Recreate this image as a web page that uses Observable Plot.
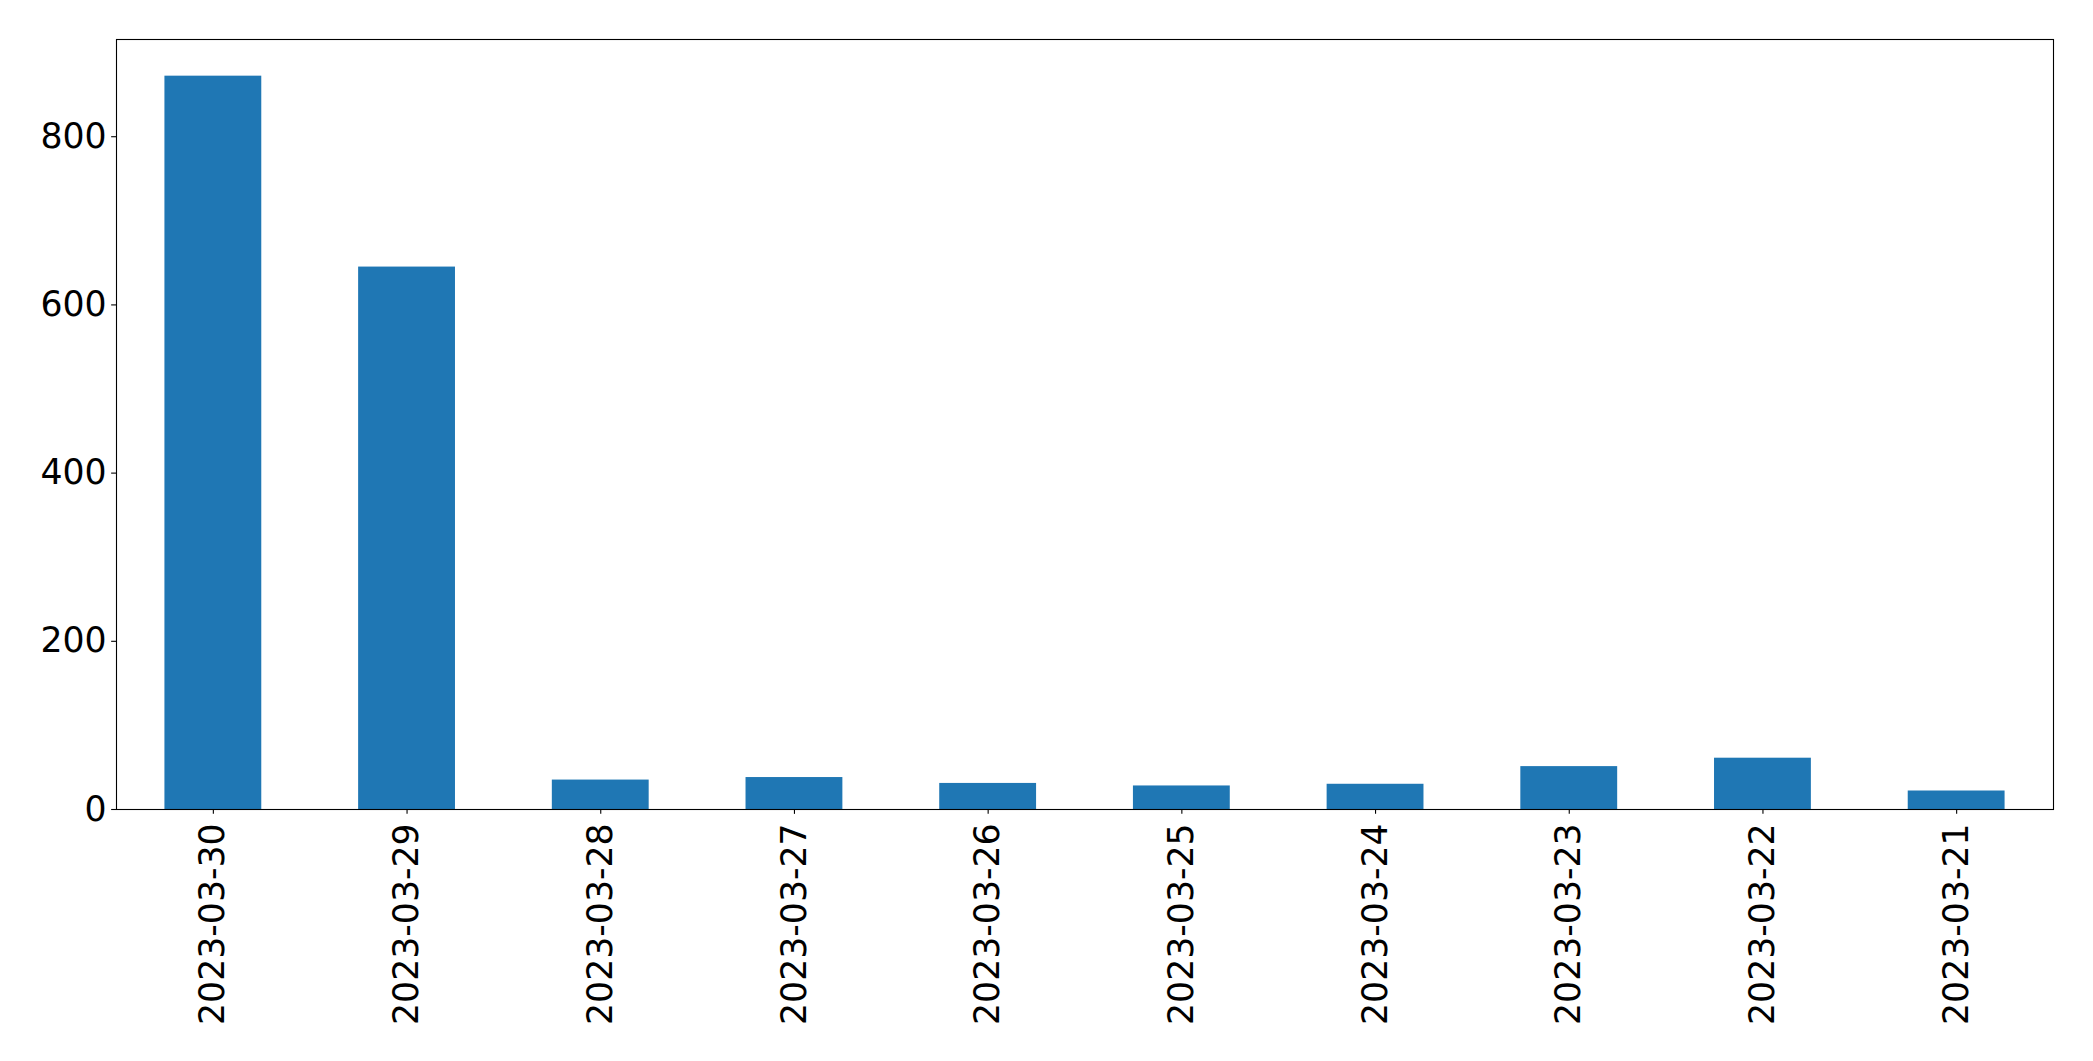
<!DOCTYPE html>
<html>
<head>
<meta charset="utf-8">
<script src="https://cdn.jsdelivr.net/npm/d3@7"></script>
<script src="https://cdn.jsdelivr.net/npm/@observablehq/plot@0.6"></script>
<style>
  html, body { margin: 0; padding: 0; background: #fff; }
  #chart svg { display: block; }
</style>
</head>
<body>
<div id="chart"></div>
<script>
const dates = ["2023-03-30","2023-03-29","2023-03-28","2023-03-27","2023-03-26","2023-03-25","2023-03-24","2023-03-23","2023-03-22","2023-03-21"];
const counts = [872, 645, 35, 38, 31, 28, 30, 51, 61, 22];
const yTicks = [0, 200, 400, 600, 800];

const data = dates.map((d, i) => ({date: d, count: counts[i]}));
const fs = 34.7;

const chart = Plot.plot({
  width: 2093,
  height: 1061,
  marginLeft: 116,
  marginRight: 40,
  marginTop: 39,
  marginBottom: 252,
  style: {fontFamily: "'DejaVu Sans', sans-serif", fontSize: fs + "px", color: "black", background: "white"},
  x: {type: "band", domain: dates, paddingInner: 0.5, paddingOuter: 0.25, round: false, label: null},
  y: {domain: [0, 872 * 1.05], label: null},
  marks: [
    Plot.barY(data, {x: "date", y: "count", fill: "#1f77b4"}),
    Plot.axisY({ticks: yTicks, tickSize: 4.86, tickPadding: 5, fontSize: fs, label: null, strokeWidth: 1.1}),
    Plot.axisX({tickRotate: -90, tickSize: 4.86, tickPadding: 9, fontSize: fs, label: null, strokeWidth: 1.1}),
    Plot.frame({stroke: "black", strokeWidth: 1.1})
  ]
});
document.getElementById("chart").appendChild(chart);
</script>
</body>
</html>
